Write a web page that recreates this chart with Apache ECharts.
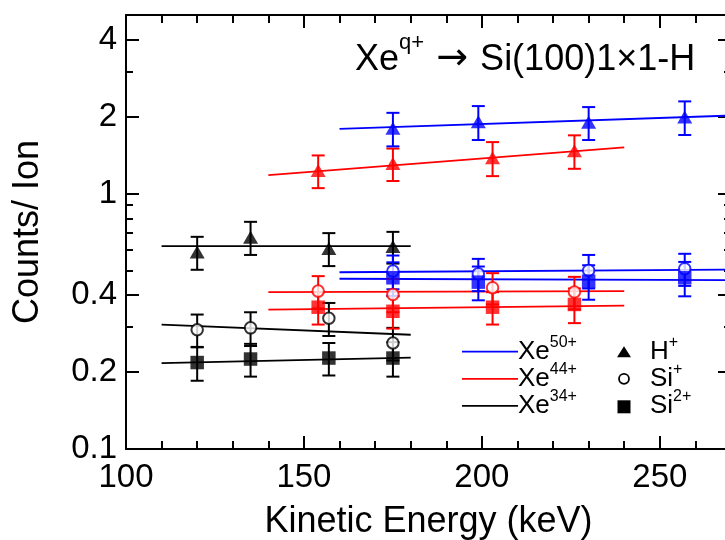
<!DOCTYPE html>
<html>
<head>
<meta charset="utf-8">
<script src="https://cdn.jsdelivr.net/npm/echarts@6/dist/echarts.min.js"></script>
<style>
html, body { margin: 0; padding: 0; background: #fff; }
#chart { width: 725px; height: 540px; }
</style>
</head>
<body>
<div id="chart"></div>
<script>
const FONT = "'Liberation Sans', Arial, Helvetica, sans-serif";
const BLUE = '#0000ff', RED = '#ff0000', BLACK = '#000000';

// Axis ranges and tick values
const X_MIN = 100, X_MAX = 270;
const Y_MIN = 0.1, Y_MAX = 5;
const xMajor = [100, 150, 200, 250];
const xMinor = [110, 120, 130, 140, 160, 170, 180, 190, 210, 220, 230, 240, 260];
const yMajor = [0.1, 0.2, 0.4, 1, 2, 4];
const yMinor = [0.3, 0.5, 0.6, 0.7, 0.8, 0.9, 3];

// Kinetic energies (keV) for each projectile charge
const energyXe50 = [175, 199, 230, 257];
const energyXe44 = [154, 175, 203, 226];
const energyXe34 = [120, 135, 157, 175];

// H+ yields (counts/ion) and errors
const hXe50 = [1.80, 1.91, 1.90, 1.995];
const hErrXe50 = [0.27, 0.29, 0.28, 0.30];
const hXe44 = [1.23, 1.31, 1.38, 1.47];
const hErrXe44 = [0.18, 0.19, 0.21, 0.22];
const hXe34 = [0.59, 0.675, 0.61, 0.62];
const hErrXe34 = [0.087, 0.10, 0.09, 0.088];

// Si+ yields and errors
const si1Xe50 = [0.497, 0.485, 0.50, 0.508];
const si1ErrXe50 = [0.075, 0.07, 0.075, 0.073];
const si1Xe44 = [0.415, 0.403, 0.428, 0.412];
const si1ErrXe44 = [0.06, 0.06, 0.06, 0.06];
const si1Xe34 = [0.293, 0.298, 0.325, 0.26];
const si1ErrXe34 = [0.043, 0.045, 0.048, 0.038];

// Si2+ yields and errors
const si2Xe50 = [0.468, 0.45, 0.454, 0.468];
const si2ErrXe50 = [0.07, 0.068, 0.07, 0.072];
const si2Xe44 = [0.359, 0.346, 0.359, 0.368];
const si2ErrXe44 = [0.052, 0.05, 0.052, 0.057];
const si2Xe34 = [0.218, 0.225, 0.227, 0.227];
const si2ErrXe34 = [0.033, 0.033, 0.033, 0.035];

// Linear fits: [energy, yield] end points
const fitHXe50 = [[160, 1.79], [270, 2.02]];
const fitHXe44 = [[140, 1.18], [240, 1.516]];
const fitHXe34 = [[110, 0.623], [180, 0.623]];
const fitSi1Xe50 = [[160, 0.492], [270, 0.504]];
const fitSi1Xe44 = [[140, 0.411], [240, 0.415]];
const fitSi1Xe34 = [[110, 0.307], [180, 0.280]];
const fitSi2Xe50 = [[160, 0.464], [270, 0.458]];
const fitSi2Xe44 = [[140, 0.351], [240, 0.364]];
const fitSi2Xe34 = [[110, 0.217], [180, 0.228]];

// Legend texts
const chargeLabels = ['50+', '44+', '34+'];
const speciesLabels = [['H', '+'], ['Si', '+'], ['Si', '2+']];

// The vertical axis is logarithmic: values are mapped to log10 before plotting
const lg = v => Math.log10(v);

function fmtLog(v) {
  let best = yMajor[0];
  yMajor.forEach(t => { if (Math.abs(lg(t) - v) < Math.abs(lg(best) - v)) best = t; });
  return String(best);
}

const fits = [
  [fitHXe34, BLACK], [fitSi1Xe34, BLACK], [fitSi2Xe34, BLACK],
  [fitHXe44, RED], [fitSi1Xe44, RED], [fitSi2Xe44, RED],
  [fitHXe50, BLUE], [fitSi1Xe50, BLUE], [fitSi2Xe50, BLUE]
];

const groups = [
  { x: energyXe34, v: hXe34, e: hErrXe34, c: BLACK, sym: 'triangle' },
  { x: energyXe34, v: si1Xe34, e: si1ErrXe34, c: BLACK, sym: 'circle' },
  { x: energyXe34, v: si2Xe34, e: si2ErrXe34, c: BLACK, sym: 'rect' },
  { x: energyXe44, v: hXe44, e: hErrXe44, c: RED, sym: 'triangle' },
  { x: energyXe44, v: si1Xe44, e: si1ErrXe44, c: RED, sym: 'circle' },
  { x: energyXe44, v: si2Xe44, e: si2ErrXe44, c: RED, sym: 'rect' },
  { x: energyXe50, v: hXe50, e: hErrXe50, c: BLUE, sym: 'triangle' },
  { x: energyXe50, v: si1Xe50, e: si1ErrXe50, c: BLUE, sym: 'circle' },
  { x: energyXe50, v: si2Xe50, e: si2ErrXe50, c: BLUE, sym: 'rect' }
];

const series = [];

fits.forEach(([pts, color]) => {
  series.push({
    type: 'line', silent: true, showSymbol: false, symbol: 'none',
    data: pts.map(p => [p[0], lg(p[1])]),
    lineStyle: { color, width: 1.8 }, z: 2
  });
});

groups.forEach(g => {
  series.push({
    type: 'custom', silent: true, z: 3,
    encode: { x: 0, y: [1, 2] },
    data: g.x.map((x, i) => [x, lg(g.v[i] - g.e[i]), lg(g.v[i] + g.e[i])]),
    renderItem: (params, api) => {
      const x = api.value(0);
      const lo = api.coord([x, api.value(1)]);
      const hi = api.coord([x, api.value(2)]);
      const w = 6.5;
      const style = { stroke: g.c, lineWidth: 2, fill: null };
      return {
        type: 'group', children: [
          { type: 'line', shape: { x1: lo[0], y1: lo[1], x2: hi[0], y2: hi[1] }, style },
          { type: 'line', shape: { x1: lo[0] - w, y1: lo[1], x2: lo[0] + w, y2: lo[1] }, style },
          { type: 'line', shape: { x1: hi[0] - w, y1: hi[1], x2: hi[0] + w, y2: hi[1] }, style }
        ]
      };
    }
  });
});

groups.forEach(g => {
  const open = g.sym === 'circle';
  series.push({
    type: 'scatter', silent: true, z: 4,
    symbol: g.sym,
    symbolSize: g.sym === 'triangle' ? [15, 13] : (open ? 11.5 : 13.5),
    itemStyle: open ? { color: '#fff', borderColor: g.c, borderWidth: 2 } : { color: g.c },
    data: g.x.map((x, i) => [x, lg(g.v[i])])
  });
});

const tickLine = { color: '#000', width: 2 };

function xAxisDef(position, ticks, len, main) {
  return {
    type: 'value', position, min: X_MIN, max: X_MAX,
    splitLine: { show: false },
    axisLine: { show: main, onZero: false, lineStyle: { color: '#000', width: 2 } },
    axisTick: { show: true, inside: true, length: len, customValues: ticks, lineStyle: tickLine },
    axisLabel: (main && position === 'bottom')
      ? { show: true, customValues: xMajor, margin: 12, color: '#000', fontSize: 33, fontFamily: FONT }
      : { show: false }
  };
}

function yAxisDef(position, ticks, len, main) {
  return {
    type: 'value', position, min: lg(Y_MIN), max: lg(Y_MAX),
    splitLine: { show: false },
    axisLine: { show: main, onZero: false, lineStyle: { color: '#000', width: 2 } },
    axisTick: { show: true, inside: true, length: len, customValues: ticks.map(lg), lineStyle: tickLine },
    axisLabel: (main && position === 'left')
      ? { show: true, customValues: yMajor.map(lg), formatter: fmtLog, margin: 9, color: '#000', fontSize: 33, fontFamily: FONT }
      : { show: false }
  };
}

const xAxes = [
  xAxisDef('bottom', xMajor, 13, true),
  xAxisDef('bottom', xMinor, 8, false),
  xAxisDef('top', xMajor, 13, true),
  xAxisDef('top', xMinor, 8, false)
];
Object.assign(xAxes[0], {
  name: 'Kinetic Energy (keV)', nameLocation: 'middle', nameGap: 55,
  nameTextStyle: { color: '#000', fontSize: 36, fontFamily: FONT }
});

const yAxes = [
  yAxisDef('left', yMajor, 13, true),
  yAxisDef('left', yMinor, 7, false),
  yAxisDef('right', yMajor, 13, true),
  yAxisDef('right', yMinor, 7, false)
];
Object.assign(yAxes[0], {
  name: 'Counts/ Ion', nameLocation: 'middle', nameRotate: 90, nameGap: 80,
  nameTextStyle: { color: '#000', fontSize: 36, fontFamily: FONT }
});

// Title and legend drawn as graphic elements
const graphic = [];
graphic.push({
  type: 'text', x: 355, y: 26, z: 10, silent: true,
  style: {
    text: '{a|Xe}{s|q+}{r| \u2192 }{a|Si(100)1\u00d71-H}',
    fill: '#000',
    rich: {
      a: { fontSize: 36, fontFamily: FONT, lineHeight: 52, verticalAlign: 'bottom', fill: '#000' },
      r: { fontSize: 38, fontFamily: "'DejaVu Sans', sans-serif", lineHeight: 52, verticalAlign: 'bottom', fill: '#000', padding: [0, 0, 0, 0] },
      s: { fontSize: 22, fontFamily: FONT, verticalAlign: 'top', fill: '#000', padding: [6, 0, 0, 0] }
    }
  }
});

const rowY = [351.7, 378.8, 405.8];
const rowColors = [BLUE, RED, BLACK];
const legendRich = {
  a: { fontSize: 26, fontFamily: FONT, lineHeight: 34, verticalAlign: 'bottom', fill: '#000' },
  s: { fontSize: 16, fontFamily: FONT, verticalAlign: 'top', fill: '#000', padding: [4, 0, 0, 0] }
};
rowY.forEach((cy, i) => {
  graphic.push({
    type: 'line', silent: true, z: 10,
    shape: { x1: 462, y1: cy, x2: 518, y2: cy },
    style: { stroke: rowColors[i], lineWidth: 1.8 }
  });
  graphic.push({
    type: 'text', x: 518, y: cy - 21, z: 10, silent: true,
    style: { text: '{a|Xe}{s|' + chargeLabels[i] + '}', fill: '#000', rich: legendRich }
  });
  graphic.push({
    type: 'text', x: 650, y: cy - 21, z: 10, silent: true,
    style: { text: '{a|' + speciesLabels[i][0] + '}{s|' + speciesLabels[i][1] + '}', fill: '#000', rich: legendRich }
  });
});
// Legend symbols
graphic.push({
  type: 'polygon', silent: true, z: 10,
  shape: { points: [[624, rowY[0] - 5.5], [631, rowY[0] + 5.5], [617, rowY[0] + 5.5]] },
  style: { fill: '#000' }
});
graphic.push({
  type: 'circle', silent: true, z: 10,
  shape: { cx: 624, cy: rowY[1], r: 5 },
  style: { fill: '#fff', stroke: '#000', lineWidth: 1.8 }
});
graphic.push({
  type: 'rect', silent: true, z: 10,
  shape: { x: 617.5, y: rowY[2] - 5.5, width: 13, height: 13 },
  style: { fill: '#000' }
});

const chart = echarts.init(document.getElementById('chart'), null, { renderer: 'canvas' });
chart.setOption({
  animation: false,
  backgroundColor: '#fff',
  grid: { left: 126, top: 15, width: 605, height: 434, containLabel: false, outerBoundsMode: 'none' },
  xAxis: xAxes,
  yAxis: yAxes,
  series,
  graphic
});
</script>
</body>
</html>
